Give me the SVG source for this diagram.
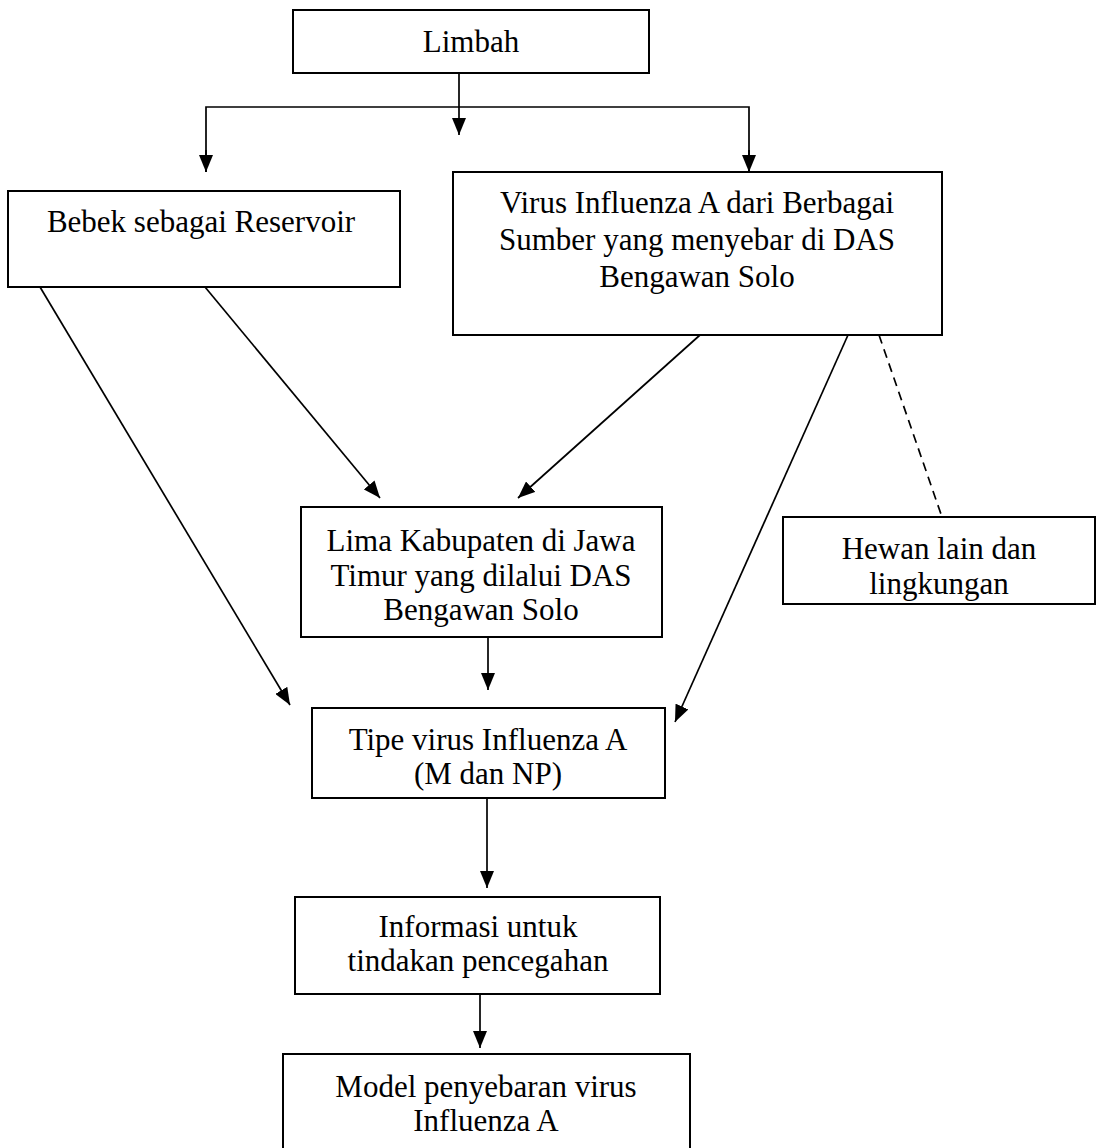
<svg xmlns="http://www.w3.org/2000/svg" width="1103" height="1148" viewBox="0 0 1103 1148">
<style>
.box{fill:#fff;stroke:#000;stroke-width:2}
.t{font-family:"Liberation Serif","Times New Roman",serif;font-size:31px;fill:#000;text-anchor:middle}
.c{stroke:#000;stroke-width:1.7;fill:none}
.a{marker-end:url(#ah)}
.d{stroke-dasharray:9,6}
</style>
<defs>
<marker id="ah" viewBox="0 0 17 14" refX="17" refY="7" markerWidth="17" markerHeight="14" markerUnits="userSpaceOnUse" orient="auto">
<path d="M0,0 L17,7 L0,14 Z" fill="#000"/>
</marker>
</defs>
<rect width="1103" height="1148" fill="#fff"/>
<g id="connectors">
<line class="c a" x1="459" y1="73" x2="459" y2="135"/>
<polyline class="c" points="206,172 206,107 749,107 749,172"/>
<line class="c a" x1="206" y1="150" x2="206" y2="172"/>
<line class="c a" x1="749" y1="150" x2="749" y2="172"/>
<line class="c a" x1="40" y1="287" x2="290" y2="705"/>
<line class="c a" x1="205" y1="287" x2="380" y2="498"/>
<line class="c a" x1="700" y1="335" x2="518" y2="498"/>
<line class="c a" x1="848" y1="335" x2="675" y2="722"/>
<line class="c d" x1="879" y1="335" x2="942" y2="517"/>
<line class="c a" x1="488" y1="637" x2="488" y2="690"/>
<line class="c a" x1="487" y1="798" x2="487" y2="888"/>
<line class="c a" x1="480" y1="994" x2="480" y2="1048"/>
</g>
<g id="limbah">
<rect class="box" x="293" y="10" width="356" height="63"/>
<text class="t" x="471" y="52">Limbah</text>
</g>
<g id="bebek">
<rect class="box" x="8" y="191" width="392" height="96"/>
<text class="t" x="201" y="232">Bebek sebagai Reservoir</text>
</g>
<g id="virus">
<rect class="box" x="453" y="172" width="489" height="163"/>
<text class="t" x="697" y="213">Virus Influenza A dari Berbagai</text>
<text class="t" x="697" y="250">Sumber yang menyebar di DAS</text>
<text class="t" x="697" y="287">Bengawan Solo</text>
</g>
<g id="lima">
<rect class="box" x="301" y="507" width="361" height="130"/>
<text class="t" x="481" y="551">Lima Kabupaten di Jawa</text>
<text class="t" x="481" y="586">Timur yang dilalui DAS</text>
<text class="t" x="481" y="620">Bengawan Solo</text>
</g>
<g id="hewan">
<rect class="box" x="783" y="517" width="312" height="87"/>
<text class="t" x="939" y="559">Hewan lain dan</text>
<text class="t" x="939" y="594">lingkungan</text>
</g>
<g id="tipe">
<rect class="box" x="312" y="708" width="353" height="90"/>
<text class="t" x="488" y="750">Tipe virus Influenza A</text>
<text class="t" x="488" y="784">(M dan NP)</text>
</g>
<g id="informasi">
<rect class="box" x="295" y="897" width="365" height="97"/>
<text class="t" x="478" y="937">Informasi untuk</text>
<text class="t" x="478" y="971">tindakan pencegahan</text>
</g>
<g id="model">
<rect class="box" x="283" y="1054" width="407" height="100"/>
<text class="t" x="486" y="1097">Model penyebaran virus</text>
<text class="t" x="486" y="1131">Influenza A</text>
</g>
</svg>
